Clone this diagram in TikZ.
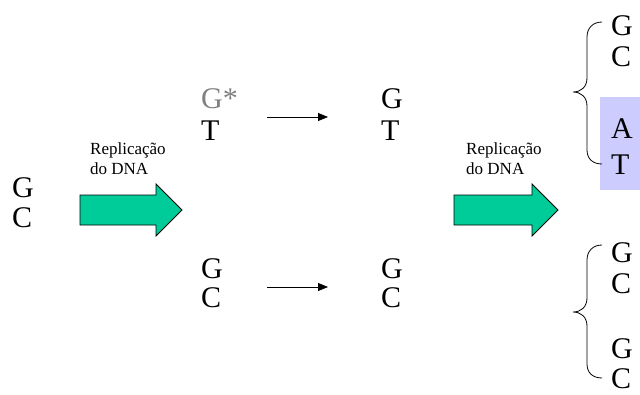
\documentclass[tikz,border=0pt]{standalone}
\usepackage{fontspec}
\setmainfont{Liberation Serif}
\usetikzlibrary{arrows.meta}
\definecolor{arrowgreen}{HTML}{00CC99}
\definecolor{boxlav}{HTML}{CCCCFF}
\definecolor{mutgray}{HTML}{808080}

\begin{document}
\begin{tikzpicture}[x=1pt,y=-1pt,
  letter/.style={anchor=base west, inner sep=0pt, font=\fontsize{30}{30}\selectfont},
  caption/.style={anchor=base west, inner sep=0pt, font=\fontsize{17}{20}\selectfont},
  fatarrow/.style={draw=black, line width=0.8pt, fill=arrowgreen, line join=miter},
  connarrow/.style={-{Triangle[length=10pt,width=8pt]}, line width=0.8pt},
  curlybrace/.style={line width=0.8pt}]

\useasboundingbox (0,0) rectangle (640,394);

% original base pair
\node[letter] (g0) at (12,197) {G};
\node[letter] (c0) at (12,227) {C};

% first replication arrow
\node[caption] (rep1) at (90,154) {Replicação};
\node[caption] (dna1) at (90,174) {do DNA};
\draw[fatarrow] (80,195) -- (156,195) -- (156,184) -- (182,210) -- (156,236)
  -- (156,225) -- (80,225) -- cycle;

% first generation: mismatched pair and normal pair
\node[letter, text=mutgray] (gs1) at (201,108) {G*};
\node[letter] (t1) at (201,140) {T};
\node[letter] (g1) at (201,278) {G};
\node[letter] (c1) at (201,307) {C};

\node[letter] (g2) at (381,108) {G};
\node[letter] (t2) at (381,140) {T};
\node[letter] (g3) at (381,278) {G};
\node[letter] (c3) at (381,307) {C};

\coordinate (a1s) at (267,117);
\coordinate (a1e) at (328,117);
\coordinate (a2s) at (267,287);
\coordinate (a2e) at (328,287);
\draw[connarrow] (a1s) -- (a1e);
\draw[connarrow] (a2s) -- (a2e);

% second replication arrow
\node[caption] (rep2) at (466,154) {Replicação};
\node[caption] (dna2) at (466,174) {do DNA};
\draw[fatarrow] (454,195) -- (532,195) -- (532,184) -- (558,210) -- (532,236)
  -- (532,225) -- (454,225) -- cycle;

% second generation, upper group with the mutant pair highlighted
\fill[boxlav] (600,97) rectangle (640,190);
\node[letter] (g4) at (611,35) {G};
\node[letter] (c4) at (611,66) {C};
\node[letter] (a4) at (611,138) {A};
\node[letter] (t4) at (611,174) {T};
\draw[curlybrace] (602,22) .. controls (593,22) and (587,28) .. (587,37)
  -- (587,78) .. controls (587,87) and (581,92) .. (573,92)
  .. controls (581,92) and (587,97) .. (587,106)
  -- (587,150) .. controls (587,159) and (593,164) .. (602,164);

% second generation, lower group
\node[letter] (g5) at (611,262) {G};
\node[letter] (c5) at (611,293) {C};
\node[letter] (g6) at (611,358) {G};
\node[letter] (c6) at (611,388) {C};
\draw[curlybrace] (602,245) .. controls (593,245) and (587,251) .. (587,260)
  -- (587,298) .. controls (587,307) and (581,312) .. (573,312)
  .. controls (581,312) and (587,317) .. (587,326)
  -- (587,364) .. controls (587,373) and (593,378) .. (602,378);
\end{tikzpicture}
\end{document}
